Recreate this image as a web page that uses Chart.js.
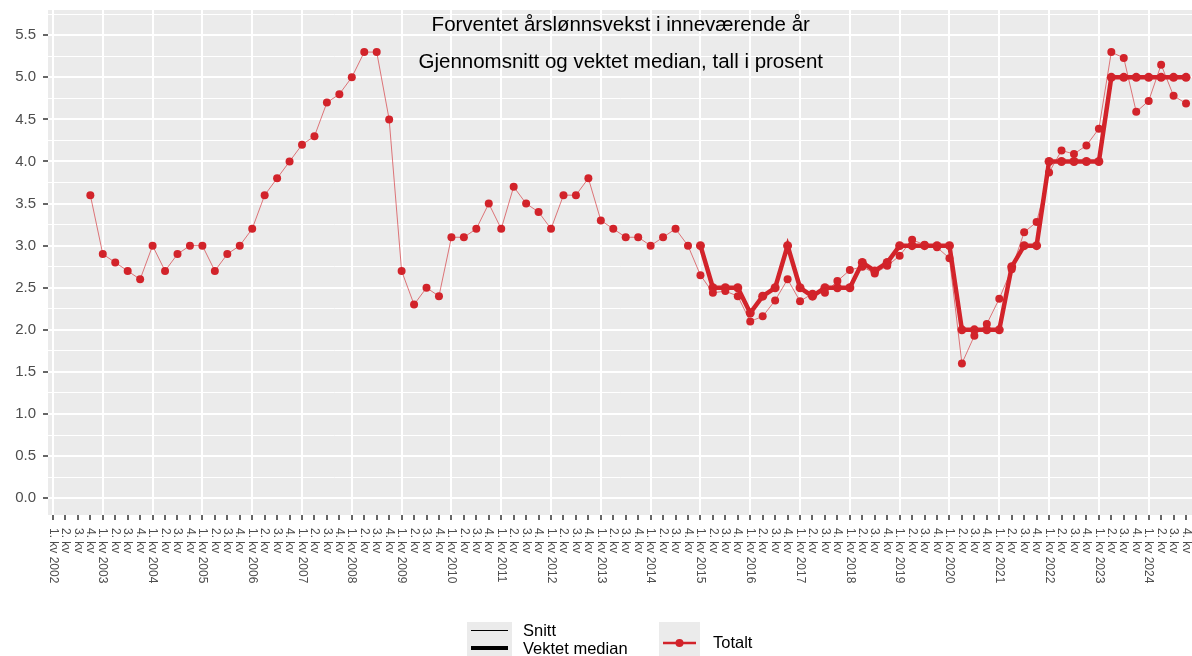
<!DOCTYPE html>
<html>
<head>
<meta charset="utf-8">
<script src="https://cdn.jsdelivr.net/npm/chart.js@4.4.1/dist/chart.umd.min.js"></script>
<style>
  html, body { margin: 0; padding: 0; background: #fff; overflow: hidden; }
  #wrap { width: 1198px; height: 656px; }
</style>
</head>
<body>
<div id="wrap"><canvas id="lonnsvekst" width="1198" height="656"></canvas></div>
<script>
// years on the axis, four quarters each
const years = [2002, 2003, 2004, 2005, 2006, 2007, 2008, 2009, 2010, 2011, 2012, 2013,
               2014, 2015, 2016, 2017, 2018, 2019, 2020, 2021, 2022, 2023, 2024];
const quarterNames = ['1. kv', '2. kv', '3. kv', '4. kv'];

// Totalt, gjennomsnitt (thin line)
const snitt = [
  null, null, null, 3.6,
  2.9, 2.8, 2.7, 2.6,
  3.0, 2.7, 2.9, 3.0,
  3.0, 2.7, 2.9, 3.0,
  3.2, 3.6, 3.8, 4.0,
  4.2, 4.3, 4.7, 4.8,
  5.0, 5.3, 5.3, 4.5,
  2.7, 2.3, 2.5, 2.4,
  3.1, 3.1, 3.2, 3.5,
  3.2, 3.7, 3.5, 3.4,
  3.2, 3.6, 3.6, 3.8,
  3.3, 3.2, 3.1, 3.1,
  3.0, 3.1, 3.2, 3.0,
  2.65, 2.44, 2.46, 2.4,
  2.1, 2.16, 2.35, 2.6,
  2.34, 2.43, 2.44, 2.58,
  2.71, 2.75, 2.67, 2.76,
  2.88, 3.07, 3.01, 2.98,
  2.85, 1.6, 1.93, 2.07,
  2.37, 2.72, 3.16, 3.28,
  3.87, 4.13, 4.09, 4.19,
  4.39, 5.3, 5.23, 4.59,
  4.72, 5.15, 4.78, 4.69
];

// Totalt, vektet median (thick line), from 1. kv 2015
const median = [
  null, null, null, null, null, null, null, null, null, null, null, null, null,
  null, null, null, null, null, null, null, null, null, null, null, null, null,
  null, null, null, null, null, null, null, null, null, null, null, null, null,
  null, null, null, null, null, null, null, null, null, null, null, null, null,
  3.0, 2.5, 2.5, 2.5,
  2.2, 2.4, 2.5, 3.0,
  2.5, 2.4, 2.5, 2.5,
  2.5, 2.8, 2.7, 2.8,
  3.0, 3.0, 3.0, 3.0,
  3.0, 2.0, 2.0, 2.0,
  2.0, 2.75, 3.0, 3.0,
  4.0, 4.0, 4.0, 4.0,
  4.0, 5.0, 5.0, 5.0,
  5.0, 5.0, 5.0, 5.0
];

// y axis: labelled every 0.5, minor grid every 0.25
const yMax = 5.75;
const yStep = 0.25;

const titleLines = ['Forventet årslønnsvekst i inneværende år',
                    'Gjennomsnitt og vektet median, tall i prosent'];

const labels = [];
years.forEach(y => quarterNames.forEach((q, i) => labels.push(i === 0 ? q + ' ' + y : q)));

const RED = '#d2232a';
const FONT = '"Liberation Sans", Arial, Helvetica, sans-serif';

const onGrid = (v, step) => Math.abs(v / step - Math.round(v / step)) < 1e-6;

const panelBg = {
  id: 'panelBg',
  beforeDraw(chart) {
    const { ctx, chartArea: a } = chart;
    ctx.save();
    ctx.fillStyle = '#ebebeb';
    ctx.fillRect(a.left, a.top, a.right - a.left, a.bottom - a.top);
    ctx.restore();
  }
};

const extras = {
  id: 'extras',
  afterDraw(chart) {
    const { ctx, chartArea: a, scales: { x } } = chart;
    ctx.save();
    // quarter labels, rotated clockwise
    ctx.font = '12px ' + FONT;
    ctx.fillStyle = '#4d4d4d';
    ctx.textAlign = 'left';
    ctx.textBaseline = 'middle';
    labels.forEach((lab, i) => {
      ctx.save();
      ctx.translate(x.getPixelForValue(i), a.bottom + 13);
      ctx.rotate(Math.PI / 2);
      ctx.fillText(lab, 0, 0);
      ctx.restore();
    });

    // title inside the panel
    const cx = (a.left + a.right) / 2;
    ctx.font = '20.5px ' + FONT;
    ctx.fillStyle = '#000';
    ctx.textAlign = 'center';
    ctx.fillText(titleLines[0], cx, 25);
    ctx.fillText(titleLines[1], cx, 62);

    // legend
    ctx.fillStyle = '#ebebeb';
    ctx.fillRect(467, 622, 45, 40);
    ctx.fillRect(659, 622, 41, 40);
    ctx.strokeStyle = '#000';
    ctx.lineWidth = 1;
    ctx.beginPath(); ctx.moveTo(471, 630.5); ctx.lineTo(508, 630.5); ctx.stroke();
    ctx.lineWidth = 4;
    ctx.beginPath(); ctx.moveTo(471, 648); ctx.lineTo(508, 648); ctx.stroke();
    ctx.strokeStyle = RED;
    ctx.lineWidth = 2.5;
    ctx.beginPath(); ctx.moveTo(663, 643); ctx.lineTo(696, 643); ctx.stroke();
    ctx.fillStyle = RED;
    ctx.beginPath(); ctx.arc(679.5, 643, 4, 0, Math.PI * 2); ctx.fill();
    ctx.fillStyle = '#000';
    ctx.font = '16.5px ' + FONT;
    ctx.textAlign = 'left';
    ctx.fillText('Snitt', 523, 631);
    ctx.fillText('Vektet median', 523, 649);
    ctx.fillText('Totalt', 713, 643);
    ctx.restore();
  }
};

const toPoints = arr => arr.map((v, i) => ({ x: i, y: v }));

new Chart(document.getElementById('lonnsvekst'), {
  type: 'line',
  data: {
    datasets: [
      {
        label: 'Snitt',
        data: toPoints(snitt),
        borderColor: 'rgba(210,35,42,0.6)',
        borderWidth: 1,
        pointRadius: 4,
        pointBackgroundColor: RED,
        pointBorderWidth: 0,
        tension: 0,
      },
      {
        label: 'Vektet median',
        data: toPoints(median),
        borderColor: RED,
        borderWidth: 4.5,
        pointRadius: 4.5,
        pointBackgroundColor: RED,
        pointBorderWidth: 0,
        tension: 0,
      },
    ],
  },
  options: {
    responsive: false,
    animation: false,
    layout: { padding: { top: 10, right: 0, left: 0, bottom: 0 } },
    plugins: { legend: { display: false }, tooltip: { enabled: false } },
    scales: {
      x: {
        type: 'linear',
        min: -0.4,
        max: 91.6,
        border: { display: false },
        grid: {
          color: c => (c.tick.value % 4 === 0 ? '#ffffff' : 'rgba(0,0,0,0)'),
          lineWidth: 2,
          tickColor: '#333333',
          tickLength: 5,
          tickWidth: 1.5,
        },
        ticks: { display: false, autoSkip: false },
        afterBuildTicks(scale) { scale.ticks = labels.map((l, i) => ({ value: i })); },
        afterFit(scale) {
          scale.height = 141;
          scale.paddingLeft = 0;
          scale.paddingRight = 0;
        },
      },
      y: {
        min: -0.2,
        max: 5.8,
        border: { display: false },
        grid: {
          color: '#ffffff',
          lineWidth: c => (onGrid(c.tick.value, 0.5) ? 2 : 1),
          tickColor: c => (onGrid(c.tick.value, 0.5) ? '#333333' : 'rgba(0,0,0,0)'),
          tickLength: 5,
          tickWidth: 1.5,
        },
        ticks: {
          autoSkip: false,
          padding: 7,
          color: '#4d4d4d',
          font: { family: FONT, size: 15 },
          callback: v => (onGrid(v, 0.5) ? v.toFixed(1) : ''),
        },
        afterBuildTicks(scale) {
          const t = [];
          for (let v = 0; v <= yMax + 1e-9; v += yStep) t.push({ value: Math.round(v * 100) / 100 });
          scale.ticks = t;
        },
        afterFit(scale) {
          scale.width = 48;
          scale.paddingTop = 0;
          scale.paddingBottom = 0;
        },
      },
    },
  },
  plugins: [panelBg, extras],
});
</script>
</body>
</html>
